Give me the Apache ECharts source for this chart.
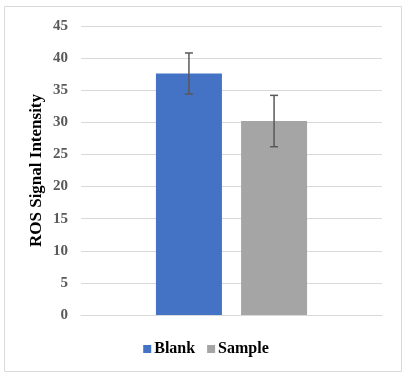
<!DOCTYPE html>
<html>
<head>
<meta charset="utf-8">
<script src="https://cdn.jsdelivr.net/npm/echarts@6/dist/echarts.min.js"></script>
<style>
html,body{margin:0;padding:0;background:#fff;}
#c{width:412px;height:381px;}
</style>
</head>
<body>
<div id="c"></div>
<script>
var categories = [''];
var seriesNames = ['Blank', 'Sample'];
var blankValues = [37.6];
var sampleValues = [30.2];
var blankErrors = [3.2];
var sampleErrors = [4.0];
var colors = ['#4472C4', '#A5A5A5'];
var yTicks = {min: 0, max: 45, interval: 5};

var BAR_W = 66, GAP_PCT = 0.29;
var allValues = [blankValues, sampleValues];
var allErrors = [blankErrors, sampleErrors];

var chart = echarts.init(document.getElementById('c'));
var serif = '"Liberation Serif", "Times New Roman", serif';

var errData = [];
for (var s = 0; s < 2; s++) {
  for (var i = 0; i < categories.length; i++) {
    errData.push([i, allValues[s][i], allErrors[s][i], s]);
  }
}

chart.setOption({
  animation: false,
  graphic: [{
    type: 'rect', shape: {x: 4.5, y: 6.5, width: 397, height: 365},
    style: {fill: 'none', stroke: '#d9d9d9', lineWidth: 1}, silent: true, z: -10
  }],
  grid: {left: 81, right: 30, top: 26, bottom: 66},
  legend: {
    data: seriesNames, bottom: 19, left: 'center',
    itemWidth: 8, itemHeight: 8, itemGap: 12, icon: 'rect',
    textStyle: {fontFamily: serif, fontWeight: 'bold', fontSize: 16, color: '#000', padding: [0,0,0,-2]}
  },
  xAxis: {
    type: 'category', data: categories,
    axisLine: {lineStyle: {color: '#d9d9d9', width: 1}},
    axisTick: {show: false}, axisLabel: {show: false}
  },
  yAxis: {
    type: 'value', min: yTicks.min, max: yTicks.max, interval: yTicks.interval,
    name: 'ROS Signal Intensity', nameLocation: 'middle', nameGap: 36, nameMoveOverlap: false,
    nameTextStyle: {fontFamily: serif, fontWeight: 'bold', fontSize: 17, color: '#000'},
    axisLine: {show: false}, axisTick: {show: false},
    axisLabel: {fontFamily: serif, fontWeight: 'bold', fontSize: 15, color: '#595959', margin: 13},
    splitLine: {lineStyle: {color: '#d9d9d9', width: 1}}
  },
  series: [
    {name: seriesNames[0], type: 'bar', data: blankValues, barWidth: BAR_W, barGap: (GAP_PCT*100)+'%', itemStyle: {color: colors[0]}},
    {name: seriesNames[1], type: 'bar', data: sampleValues, barWidth: BAR_W, barGap: (GAP_PCT*100)+'%', itemStyle: {color: colors[1]}},
    {
      type: 'custom', data: errData, z: 10,
      renderItem: function (params, api) {
        var ci = api.value(0), v = api.value(1), e = api.value(2), si = api.value(3);
        var step = BAR_W * (1 + GAP_PCT);
        var off = (si - 0.5) * step;
        var top = api.coord([ci, v + e]);
        var bot = api.coord([ci, v - e]);
        var x = top[0] + off;
        var cap = 4;
        var st = {stroke: '#595959', lineWidth: 1.5};
        return {type: 'group', children: [
          {type: 'line', shape: {x1: x, y1: top[1], x2: x, y2: bot[1]}, style: st},
          {type: 'line', shape: {x1: x - cap, y1: top[1], x2: x + cap, y2: top[1]}, style: st},
          {type: 'line', shape: {x1: x - cap, y1: bot[1], x2: x + cap, y2: bot[1]}, style: st}
        ]};
      }
    }
  ]
});
</script>
</body>
</html>
